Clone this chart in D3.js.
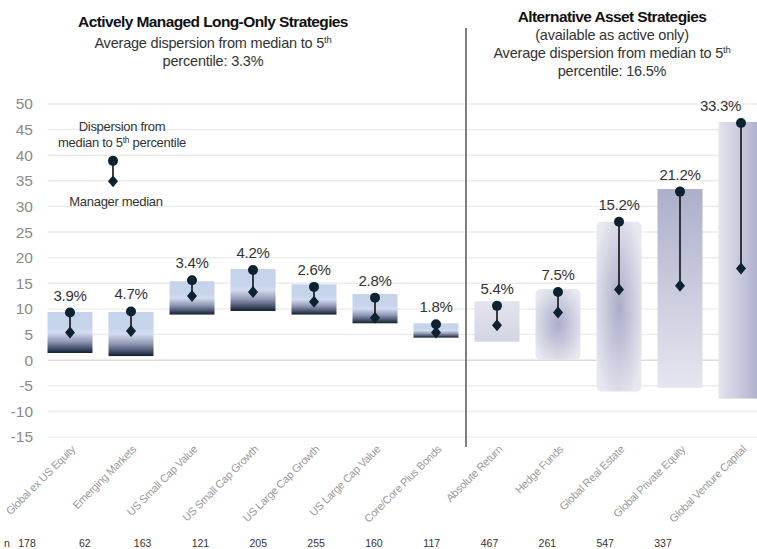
<!DOCTYPE html>
<html>
<head>
<meta charset="utf-8">
<script src="https://cdn.jsdelivr.net/npm/d3@7"></script>
<style>
  body { margin: 0; background: #fff; }
  text { font-family: "Liberation Sans", Arial, sans-serif; }
</style>
</head>
<body>
<svg id="chart" width="757" height="549"></svg>
<script>
// categories + values
const categories = ['Global ex US Equity', 'Emerging Markets', 'US Small Cap Value', 'US Small Cap Growth',
  'US Large Cap Growth', 'US Large Cap Value', 'Core/Core Plus Bonds', 'Absolute Return',
  'Hedge Funds', 'Global Real Estate', 'Global Private Equity', 'Global Venture Capital'];
const barLow  = [1.4, 0.8, 8.9, 9.6, 8.9, 7.2, 4.4, 3.6, 0.1, -6.1, -5.4, -7.5];
const barHigh = [9.4, 9.4, 15.4, 17.8, 14.8, 12.9, 7.2, 11.5, 13.9, 27.0, 33.4, 46.5];
const median  = [5.4, 5.7, 12.5, 13.3, 11.4, 8.3, 5.4, 6.8, 9.3, 13.8, 14.5, 17.9];
const pct5    = [9.3, 9.5, 15.6, 17.6, 14.3, 12.2, 7.0, 10.6, 13.3, 27.0, 32.9, 46.3];
const dispLabels = ['3.9%', '4.7%', '3.4%', '4.2%', '2.6%', '2.8%', '1.8%', '5.4%', '7.5%', '15.2%', '21.2%', '33.3%'];
const nCounts = [178, 62, 163, 121, 205, 255, 160, 117, 467, 261, 547, 337];
const yTicks = d3.range(-15, 51, 5);

const svg = d3.select('svg#chart');
const W = 757;
const x = d3.scalePoint().domain(categories).range([70, 741]);
const xn = d3.scalePoint().domain(categories).range([27, 663]);
const y = d3.scaleLinear().domain([-15, 50]).range([437, 104]);
const barW = 45;

// gradients
const defs = svg.append('defs');
const lin = (id, x2, y2, stops) => {
  const g = defs.append('linearGradient').attr('id', id)
    .attr('x1', 0).attr('y1', 0).attr('x2', x2).attr('y2', y2);
  stops.forEach(([o, c]) => g.append('stop').attr('offset', o).attr('stop-color', c));
};
lin('gLong', 0, 1, [[0, '#c4d3eb'], [0.38, '#c6d4ec'], [0.5, '#d3dcef'], [0.72, '#9298b6'], [0.88, '#4a5570'], [1, '#0e1e2e']]);
lin('gFlat', 0, 1, [[0, '#e3e4ee'], [1, '#d4d5e4']]);
lin('gDown', 0, 1, [[0, '#adafcb'], [1, '#e6e6f0']]);
lin('gSide', 1, 0, [[0, '#e5e5ef'], [1, '#a8aac8']]);
const rad = defs.append('radialGradient').attr('id', 'gRad').attr('cx', 0.5).attr('cy', 0.5).attr('r', 0.6);
rad.append('stop').attr('offset', 0).attr('stop-color', '#abacc9');
rad.append('stop').attr('offset', 1).attr('stop-color', '#e8e8f1');
const fillFor = i => i < 7 ? 'url(#gLong)' : ['url(#gFlat)', 'url(#gRad)', 'url(#gRad)', 'url(#gDown)', 'url(#gSide)'][i - 7];

// grid
svg.append('g').selectAll('line').data(yTicks).join('line')
  .attr('x1', 48).attr('x2', W)
  .attr('y1', d => y(d)).attr('y2', d => y(d))
  .attr('stroke', d => d === 0 ? '#dcdcdc' : '#ececec')
  .attr('stroke-width', 1.5);

svg.append('g').selectAll('text').data(yTicks).join('text')
  .attr('x', 33).attr('y', d => y(d)).attr('dy', '0.35em')
  .attr('text-anchor', 'end').attr('fill', '#8a8a8a').style('font-size', '15.5px')
  .text(d => d);

// bars
svg.append('g').selectAll('rect').data(categories).join('rect')
  .attr('x', d => x(d) - barW / 2).attr('width', barW)
  .attr('y', (d, i) => y(barHigh[i]))
  .attr('height', (d, i) => y(barLow[i]) - y(barHigh[i]))
  .attr('rx', (d, i) => (i === 8 || i === 9) ? 5 : 0)
  .attr('fill', (d, i) => fillFor(i));

// dispersion stems: dot = 5th percentile, diamond = median
const diamond = 'M0,-6L5,0L0,6L-5,0Z';
const drawMarker = (g, cx, yTop, yMed) => {
  g.append('line').attr('x1', cx).attr('x2', cx).attr('y1', yTop).attr('y2', yMed)
    .attr('stroke', '#111').attr('stroke-width', 1.6);
  g.append('path').attr('d', diamond)
    .attr('transform', `translate(${cx},${yMed})`).attr('fill', '#0d2230');
  g.append('circle').attr('cx', cx).attr('cy', yTop).attr('r', 5).attr('fill', '#0d2230');
};
const mark = svg.append('g');
categories.forEach((c, i) => drawMarker(mark, x(c), y(pct5[i]), y(median[i])));

svg.append('g').selectAll('text').data(categories).join('text')
  .attr('x', d => x(d)).attr('y', (d, i) => y(pct5[i]) - 12)
  .attr('text-anchor', 'middle').attr('fill', '#333').style('font-size', '15px')
  .style('letter-spacing', '-0.3px')
  .text((d, i) => dispLabels[i])
  .each(function (d) {
    const w = this.getComputedTextLength();
    if (x(d) + w / 2 > W - 14) d3.select(this).attr('text-anchor', 'end').attr('x', W - 16);
  });

// legend
drawMarker(svg.append('g'), 113, y(38.9), y(34.9));
const leg = svg.append('text').attr('text-anchor', 'middle').attr('fill', '#333')
  .style('font-size', '13px').style('letter-spacing', '-0.3px');
leg.append('tspan').attr('x', 122).attr('y', 131).text('Dispersion from');
const l2 = leg.append('tspan').attr('x', 122).attr('y', 147);
l2.append('tspan').text('median to 5');
l2.append('tspan').attr('dy', -4).style('font-size', '8.5px').text('th');
l2.append('tspan').attr('dy', 4).text(' percentile');
svg.append('text').attr('x', 116).attr('y', 206).attr('text-anchor', 'middle')
  .attr('fill', '#333').style('font-size', '13px').style('letter-spacing', '-0.3px').text('Manager median');

// divider
svg.append('line').attr('x1', 466).attr('x2', 466).attr('y1', 28).attr('y2', 447)
  .attr('stroke', '#555').attr('stroke-width', 1.5);

// titles
const title = (cx, ys, lines, pctLine) => {
  svg.append('text').attr('x', cx).attr('y', ys[0]).attr('text-anchor', 'middle')
    .attr('fill', '#111').style('font-size', '15.5px').style('font-weight', 'bold')
    .style('letter-spacing', '-0.6px').text(lines[0]);
  const sub = (yy) => svg.append('text').attr('x', cx).attr('y', yy).attr('text-anchor', 'middle')
    .attr('fill', '#333').style('font-size', '14.5px').style('letter-spacing', '-0.2px');
  let k = 1;
  for (; k < lines.length; k++) sub(ys[k]).text(lines[k]);
  const t = sub(ys[k]);
  t.append('tspan').text('Average dispersion from median to 5');
  t.append('tspan').attr('dy', -5).style('font-size', '9.5px').text('th');
  sub(ys[k + 1]).text(pctLine);
};
title(213, [27, 48, 66], ['Actively Managed Long-Only Strategies'], 'percentile: 3.3%');
title(612, [22, 40, 58, 76], ['Alternative Asset Strategies', '(available as active only)'], 'percentile: 16.5%');

// x labels
svg.append('g').selectAll('text').data(categories).join('text')
  .attr('transform', d => `translate(${x(d) + 6},450) rotate(-45)`)
  .attr('text-anchor', 'end').attr('fill', '#9a9a9a').style('font-size', '11px')
  .style('letter-spacing', '-0.3px').text(d => d);

// n row
svg.append('text').attr('x', 4).attr('y', 547).attr('fill', '#333').style('font-size', '10.5px').text('n');
svg.append('g').selectAll('text').data(categories).join('text')
  .attr('x', d => xn(d)).attr('y', 547).attr('text-anchor', 'middle')
  .attr('fill', '#333').style('font-size', '10.5px').text((d, i) => nCounts[i]);
</script>
</body>
</html>
